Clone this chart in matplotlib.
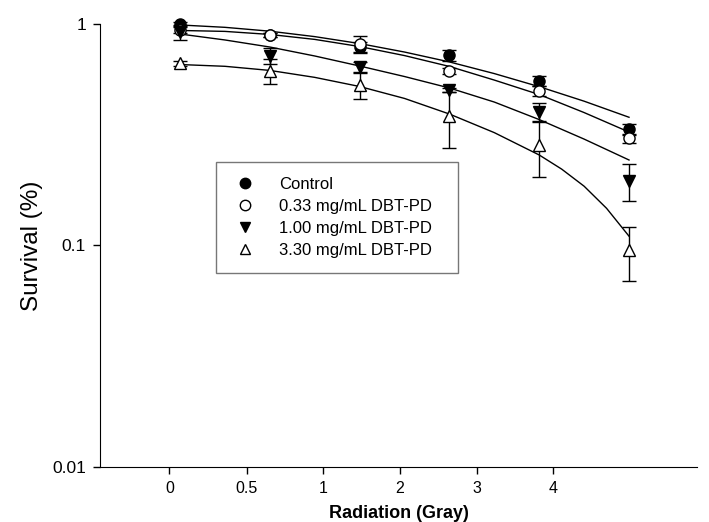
import matplotlib.pyplot as plt
from matplotlib.lines import Line2D

plt.rcParams['font.family'] = ['Liberation Sans', 'DejaVu Sans']

# measured points, plotted at evenly spaced positions
pos = [0, 1, 2, 3, 4, 5]
ctrl = [1.00, 0.89, 0.785, 0.724, 0.553, 0.334]
ctrl_err = [0.02, 0.02, 0.04, 0.04, 0.03, 0.02]
d033 = [0.94, 0.892, 0.81, 0.615, 0.498, 0.304]
d033_err = [0.03, 0.02, 0.07, 0.02, 0.025, 0.015]
d100 = [0.92, 0.717, 0.641, 0.503, 0.399, 0.196]
d100_err = [0.07, 0.06, 0.033, 0.012, 0.039, 0.037]
d330 = [0.664, 0.615, 0.530, 0.384, 0.284, 0.095]
d330_err = [0.02, 0.08, 0.07, 0.11, 0.08, 0.026]

# fitted curves
fit_x = [0, 0.5, 1, 1.5, 2, 2.5, 3, 3.5, 4, 4.5, 5]
fit_ctrl = [0.990, 0.966, 0.928, 0.877, 0.816, 0.747, 0.674, 0.597, 0.521, 0.448, 0.379]
fit_033 = [0.935, 0.926, 0.897, 0.852, 0.791, 0.720, 0.643, 0.558, 0.480, 0.398, 0.325]
fit_100 = [0.901, 0.847, 0.787, 0.717, 0.646, 0.579, 0.514, 0.444, 0.370, 0.302, 0.243]
fit_x330 = [0, 0.5, 1, 1.5, 2, 2.5, 3, 3.5, 4, 4.25, 4.5, 4.75, 5]
fit_330 = [0.656, 0.644, 0.617, 0.574, 0.522, 0.461, 0.392, 0.323, 0.256, 0.221, 0.185, 0.147, 0.110]

tick_pos = [-0.119, 0.743, 1.596, 2.450, 3.304, 4.157]
tick_lab = ['0', '0.5', '1', '2', '3', '4']

labels = ['Control', '0.33 mg/mL DBT-PD', '1.00 mg/mL DBT-PD', '3.30 mg/mL DBT-PD']

fig = plt.figure(figsize=(7.09, 5.22), dpi=100)
ax = fig.add_axes([100/709, 1 - 466.7/522, 597/709, 442.7/522])

ax.plot(fit_x, fit_ctrl, 'k-', lw=1)
ax.plot(fit_x, fit_033, 'k-', lw=1)
ax.plot(fit_x, fit_100, 'k-', lw=1)
ax.plot(fit_x330, fit_330, 'k-', lw=1)

eb = dict(color='k', ecolor='k', elinewidth=1, capsize=5, capthick=1,
          linestyle='none', markersize=8, clip_on=False)
ax.errorbar(pos, ctrl, yerr=ctrl_err, marker='o', mfc='k', mec='k', **eb)
ax.errorbar(pos, d033, yerr=d033_err, marker='o', mfc='white', mec='k', **eb)
ax.errorbar(pos, d100, yerr=d100_err, marker='v', mfc='k', mec='k', **eb)
ax.errorbar(pos, d330, yerr=d330_err, marker='^', mfc='white', mec='k', **eb)

ax.set_yscale('log')
ax.set_ylim(0.01, 1)
ax.set_xlim(-0.891, 5.757)
ax.set_yticks([0.01, 0.1, 1])
ax.set_yticklabels(['0.01', '0.1', '1'])
ax.minorticks_off()
ax.set_xticks(tick_pos)
ax.set_xticklabels(tick_lab)
ax.tick_params(direction='out', length=5, width=1, labelsize=11.5, pad=5)
ax.tick_params(axis='y', labelsize=12.5)
ax.spines['top'].set_visible(False)
ax.spines['right'].set_visible(False)
ax.set_xlabel('Radiation (Gray)', fontsize=13, fontweight='bold', labelpad=7)
ax.set_ylabel('Survival (%)', fontsize=17.5, labelpad=7)

handles = [
    Line2D([], [], ls='none', marker='o', mfc='k', mec='k', ms=7.5),
    Line2D([], [], ls='none', marker='o', mfc='white', mec='k', ms=7.5),
    Line2D([], [], ls='none', marker='v', mfc='k', mec='k', ms=7.5),
    Line2D([], [], ls='none', marker='^', mfc='white', mec='k', ms=7.5),
]
leg = ax.legend(handles, labels, loc='upper left',
                bbox_to_anchor=(216/709, 1 - 162/522, 242/709, 0),
                bbox_transform=fig.transFigure, mode='expand', borderaxespad=0,
                fontsize=12, frameon=True, fancybox=False, handlelength=1.67,
                handletextpad=1.2, labelspacing=0.42, borderpad=0.9)
leg.get_frame().set_edgecolor('#555555')
leg.get_frame().set_linewidth(1)

fig.savefig('out.png', dpi=100)
